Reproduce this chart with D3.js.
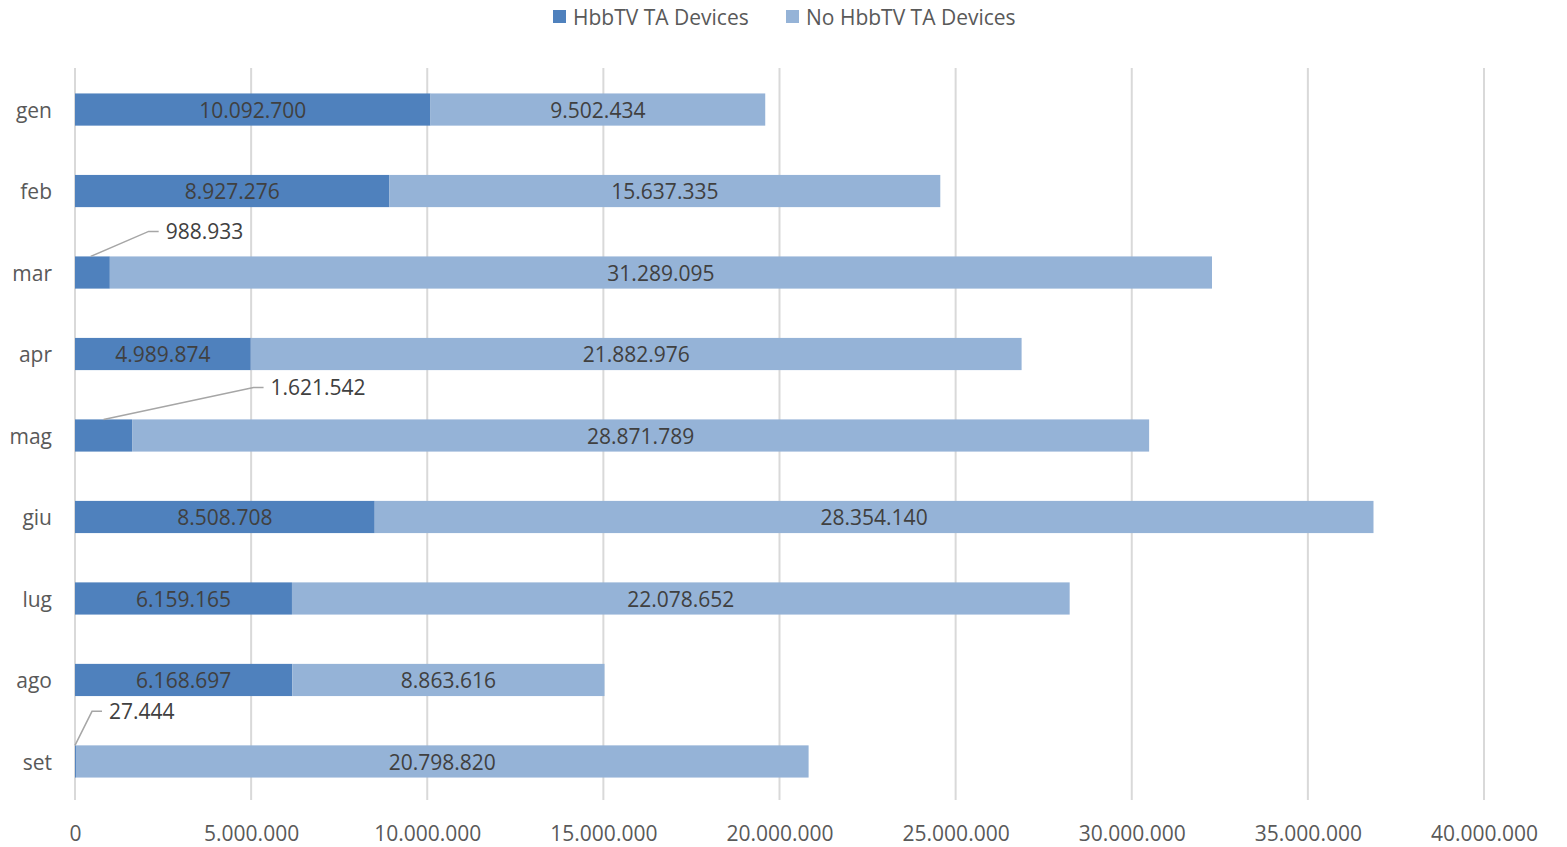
<!DOCTYPE html>
<html><head><meta charset="utf-8">
<script src="https://cdn.jsdelivr.net/npm/d3@7"></script>
<style>body{margin:0;background:#fff;} text{font-family:"Open Sans",sans-serif;}</style>
</head><body>
<svg id="c" width="1567" height="847"></svg>
<script>
const categories = ["gen","feb","mar","apr","mag","giu","lug","ago","set"];
const hbbtv = [10092700, 8927276, 988933, 4989874, 1621542, 8508708, 6159165, 6168697, 27444];
const noHbbtv = [9502434, 15637335, 31289095, 21882976, 28871789, 28354140, 22078652, 8863616, 20798820];
const seriesNames = ["HbbTV TA Devices", "No HbbTV TA Devices"];
const tickValues = [0,5000000,10000000,15000000,20000000,25000000,30000000,35000000,40000000];
const colors = ["#4F81BD", "#95B3D7"];
// callout offsets for small values (layout only)
const callouts = {"mar":{dx:58,dy:-25,sx:0.45}, "mag":{dx:150,dy:-32,sx:0.5}, "set":{dx:17,dy:-34,sx:0}};

const svg = d3.select("#c");
const FS = 21;
const x = d3.scaleLinear().domain([0,40000000]).range([75,1484]);
const y = d3.scaleBand().domain(categories).range([69,802]).paddingInner(0.605).paddingOuter(0.3);
const fmt = v => d3.format(",")(v).replace(/,/g,".");

// gridlines
svg.append("g").selectAll("line").data(tickValues).join("line")
  .attr("x1",d=>x(d)).attr("x2",d=>x(d)).attr("y1",68).attr("y2",800)
  .attr("stroke","#D9D9D9").attr("stroke-width",2);

// x axis labels
const xa = svg.append("g").attr("transform","translate(0,800)")
  .call(d3.axisBottom(x).tickValues(tickValues).tickFormat(fmt).tickSize(0).tickPadding(26));
xa.select(".domain").remove();
xa.selectAll("text").attr("font-size",FS).attr("fill","#595959").attr("font-family","Open Sans");

// y axis labels
const ya = svg.append("g").attr("transform","translate(75,0)")
  .call(d3.axisLeft(y).tickSize(0).tickPadding(23));
ya.select(".domain").remove();
ya.selectAll("text").attr("font-size",FS).attr("fill","#595959").attr("font-family","Open Sans").attr("dy","0.4em");

const data = categories.map((c,i)=>({c, a:hbbtv[i], b:noHbbtv[i]}));
const bh = y.bandwidth();

const g = svg.append("g");
g.selectAll("rect.a").data(data).join("rect").attr("class","a")
  .attr("x",x(0)).attr("y",d=>y(d.c)).attr("width",d=>x(d.a)-x(0)).attr("height",bh).attr("fill",colors[0]);
g.selectAll("rect.b").data(data).join("rect").attr("class","b")
  .attr("x",d=>x(d.a)).attr("y",d=>y(d.c)).attr("width",d=>x(d.a+d.b)-x(d.a)).attr("height",bh).attr("fill",colors[1]);

// labels
const lab = svg.append("g").attr("font-size",FS).attr("fill","#404040");
data.forEach(d=>{
  const cy = y(d.c)+bh/2;
  lab.append("text").attr("x",(x(d.a)+x(d.a+d.b))/2).attr("y",cy)
    .attr("text-anchor","middle").attr("dy","0.4em").text(fmt(d.b));
  if (callouts[d.c]) {
    const co = callouts[d.c];
    const sx = x(0) + (x(d.a)-x(0))*co.sx;
    const sy = y(d.c);
    const ex = sx + co.dx, ey = sy + co.dy;
    svg.append("polyline").attr("points",`${sx},${sy} ${ex},${ey} ${ex+10},${ey}`)
      .attr("fill","none").attr("stroke","#A6A6A6").attr("stroke-width",1.5);
    lab.append("text").attr("x",ex+17).attr("y",ey).attr("dy","0.38em").text(fmt(d.a));
  } else {
    lab.append("text").attr("x",(x(0)+x(d.a))/2).attr("y",cy).attr("text-anchor","middle").attr("dy","0.4em").text(fmt(d.a));
  }
});

// legend
const leg = svg.append("g");
const legX = [553, 786];
seriesNames.forEach((n,i)=>{
  leg.append("rect").attr("x",legX[i]).attr("y",10).attr("width",13).attr("height",13).attr("fill",colors[i]);
  leg.append("text").attr("x",legX[i]+20).attr("y",17).attr("dy","0.36em").attr("font-size",FS).attr("fill","#595959").text(n);
});
</script>
</body></html>
